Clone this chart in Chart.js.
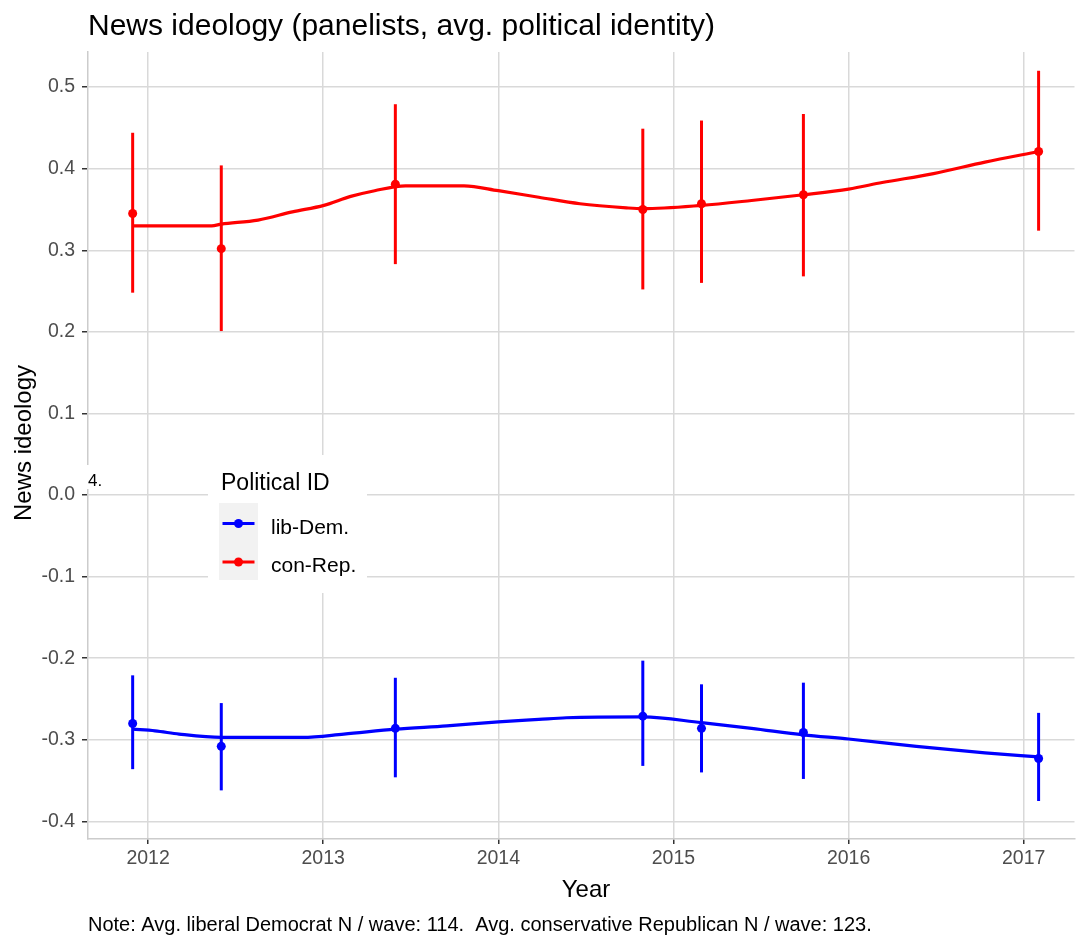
<!DOCTYPE html>
<html>
<head>
<meta charset="utf-8">
<script src="https://cdn.jsdelivr.net/npm/chart.js@4.4.1/dist/chart.umd.min.js"></script>
<style>
    html, body { margin: 0; padding: 0; background: #ffffff; }
    #wrap { width: 1079px; height: 937px; }
</style>
</head>
<body>
<div id="wrap"><canvas id="newsChart" width="1079" height="937"></canvas></div>
<script>

// survey waves (decimal year)
const waveYears = [2011.912, 2012.418, 2013.412, 2014.825, 2015.160, 2015.742, 2017.085];

const libDemMean = [-0.280, -0.308, -0.286, -0.271, -0.286, -0.291, -0.323];
const libDemLow  = [-0.336, -0.362, -0.346, -0.332, -0.340, -0.348, -0.375];
const libDemHigh = [-0.221, -0.255, -0.224, -0.203, -0.232, -0.230, -0.267];

const conRepMean = [0.345, 0.302, 0.381, 0.350, 0.357, 0.368, 0.421];
const conRepLow  = [0.248, 0.201, 0.283, 0.252, 0.260, 0.268, 0.324];
const conRepHigh = [0.444, 0.404, 0.479, 0.449, 0.459, 0.467, 0.520];

// smoothed trend lines
const libDemSmoothYears = [2011.912, 2012.04, 2012.177, 2012.418, 2012.882, 2013.118, 2013.412, 2013.706, 2014.0, 2014.231, 2014.388, 2014.825, 2015.160, 2015.446, 2015.742, 2016.0, 2016.387, 2016.779, 2017.085];
const libDemSmooth = [-0.287, -0.289, -0.293, -0.297, -0.297, -0.293, -0.287, -0.283, -0.278, -0.275, -0.273, -0.272, -0.279, -0.286, -0.294, -0.299, -0.308, -0.316, -0.321];

const conRepSmoothYears = [2011.912, 2012.363, 2012.418, 2012.628, 2012.824, 2013.004, 2013.157, 2013.294, 2013.470, 2013.804, 2014.0, 2014.231, 2014.466, 2014.731, 2014.825, 2015.160, 2015.446, 2015.742, 2016.0, 2016.192, 2016.485, 2016.779, 2017.085];
const conRepSmooth = [0.330, 0.330, 0.332, 0.337, 0.347, 0.355, 0.366, 0.373, 0.379, 0.379, 0.373, 0.365, 0.357, 0.352, 0.351, 0.355, 0.361, 0.368, 0.375, 0.383, 0.394, 0.408, 0.421];

const yearTicks = [2012, 2013, 2014, 2015, 2016, 2017];
const ideologyTicks = [-0.4, -0.3, -0.2, -0.1, 0, 0.1, 0.2, 0.3, 0.4, 0.5];

const seriesNames = ["lib-Dem.", "con-Rep."];
const seriesColors = ["#0000FF", "#FF0000"];

const FONT = '"Liberation Sans", Arial, sans-serif';

function toPoints(xs, ys) {
    return xs.map((x, i) => ({ x: x, y: ys[i] }));
}

// vertical error bars through the chart scales
const errorBarPlugin = {
    id: "errorBars",
    beforeDatasetsDraw(chart) {
        const ctx = chart.ctx;
        const xs = chart.scales.x;
        const ys = chart.scales.y;
        const groups = [
            { low: libDemLow, high: libDemHigh, color: seriesColors[0] },
            { low: conRepLow, high: conRepHigh, color: seriesColors[1] }
        ];
        ctx.save();
        ctx.lineWidth = 3;
        ctx.lineCap = "butt";
        groups.forEach(g => {
            ctx.strokeStyle = g.color;
            waveYears.forEach((yr, i) => {
                const px = xs.getPixelForValue(yr);
                ctx.beginPath();
                ctx.moveTo(px, ys.getPixelForValue(g.low[i]));
                ctx.lineTo(px, ys.getPixelForValue(g.high[i]));
                ctx.stroke();
            });
        });
        ctx.restore();
    }
};

// titles, note, legend
const decorPlugin = {
    id: "decor",
    afterDraw(chart) {
        const ctx = chart.ctx;
        ctx.save();

        ctx.fillStyle = "#000000";
        ctx.textAlign = "left";
        ctx.textBaseline = "alphabetic";
        ctx.font = "30px " + FONT;
        ctx.fillText("News ideology (panelists, avg. political identity)", 88, 35);

        ctx.font = "24px " + FONT;
        ctx.textAlign = "center";
        ctx.fillText("Year", 586, 897);

        ctx.save();
        ctx.translate(31, 443);
        ctx.rotate(-Math.PI / 2);
        ctx.fillText("News ideology", 0, 0);
        ctx.restore();

        ctx.textAlign = "left";
        ctx.font = "20px " + FONT;
        ctx.fillText("Note: Avg. liberal Democrat N / wave: 114.  Avg. conservative Republican N / wave: 123.", 88, 931);

        // stray label
        ctx.fillStyle = "#ffffff";
        ctx.fillRect(86, 465, 22, 24);
        ctx.fillStyle = "#000000";
        ctx.font = "17px " + FONT;
        ctx.fillText("4.", 88, 486);

        // legend
        ctx.fillStyle = "#ffffff";
        ctx.fillRect(208, 455, 159, 138);
        ctx.fillStyle = "#000000";
        ctx.font = "23px " + FONT;
        ctx.fillText("Political ID", 221, 490);
        ctx.fillStyle = "#F2F2F2";
        ctx.fillRect(219, 503, 39, 77);

        const keyY = [523.5, 562];
        const labelY = [534, 572];
        seriesNames.forEach((name, i) => {
            ctx.strokeStyle = seriesColors[i];
            ctx.lineWidth = 3;
            ctx.beginPath();
            ctx.moveTo(222.5, keyY[i]);
            ctx.lineTo(254.5, keyY[i]);
            ctx.stroke();
            ctx.fillStyle = seriesColors[i];
            ctx.beginPath();
            ctx.arc(238.5, keyY[i], 4.5, 0, Math.PI * 2);
            ctx.fill();
            ctx.fillStyle = "#000000";
            ctx.font = "21px " + FONT;
            ctx.fillText(name, 271, labelY[i]);
        });

        ctx.restore();
    }
};

const ctx = document.getElementById("newsChart");

new Chart(ctx, {

    type: "line",

    data: {
        datasets: [
            {
                label: seriesNames[0],
                data: toPoints(waveYears, libDemMean),
                showLine: false,
                pointRadius: 4.5,
                pointHoverRadius: 4.5,
                pointBackgroundColor: seriesColors[0],
                pointBorderWidth: 0,
                borderColor: seriesColors[0]
            },
            {
                label: seriesNames[0] + " trend",
                data: toPoints(libDemSmoothYears, libDemSmooth),
                borderColor: seriesColors[0],
                borderWidth: 3.2,
                pointRadius: 0,
                cubicInterpolationMode: "monotone",
                fill: false
            },
            {
                label: seriesNames[1],
                data: toPoints(waveYears, conRepMean),
                showLine: false,
                pointRadius: 4.5,
                pointHoverRadius: 4.5,
                pointBackgroundColor: seriesColors[1],
                pointBorderWidth: 0,
                borderColor: seriesColors[1]
            },
            {
                label: seriesNames[1] + " trend",
                data: toPoints(conRepSmoothYears, conRepSmooth),
                borderColor: seriesColors[1],
                borderWidth: 3.2,
                pointRadius: 0,
                cubicInterpolationMode: "monotone",
                fill: false
            }
        ]
    },

    options: {
        responsive: false,
        animation: false,
        devicePixelRatio: 1,
        events: [],
        layout: {
            padding: { top: 52, right: 1, bottom: 0, left: 0 }
        },
        plugins: {
            legend: { display: false },
            title: { display: false },
            tooltip: { enabled: false }
        },
        scales: {
            x: {
                type: "linear",
                min: 2011.657,
                max: 2017.29,
                afterBuildTicks: scale => {
                    scale.ticks = yearTicks.map(v => ({ value: v }));
                },
                afterFit: scale => {
                    scale.height = 98;
                },
                ticks: {
                    color: "#4D4D4D",
                    font: { family: FONT, size: 19.5 },
                    padding: 3,
                    maxRotation: 0,
                    autoSkip: false,
                    callback: v => String(v)
                },
                grid: {
                    color: "#D9D9D9",
                    lineWidth: 1.5,
                    tickLength: 5,
                    tickColor: "#333333",
                    tickWidth: 1.5
                },
                border: { display: true, color: "#CCCCCC", width: 1.5 }
            },
            y: {
                type: "linear",
                min: -0.4216,
                max: 0.543,
                afterBuildTicks: scale => {
                    scale.ticks = ideologyTicks.map(v => ({ value: v }));
                },
                afterFit: scale => {
                    scale.width = 88;
                },
                ticks: {
                    color: "#4D4D4D",
                    font: { family: FONT, size: 19.5 },
                    padding: 7,
                    callback: v => v.toFixed(1)
                },
                grid: {
                    color: "#D9D9D9",
                    lineWidth: 1.5,
                    tickLength: 6,
                    tickColor: "#333333",
                    tickWidth: 1.5
                },
                border: { display: true, color: "#CCCCCC", width: 1.5 }
            }
        }
    },

    plugins: [errorBarPlugin, decorPlugin]

});

</script>
</body>
</html>
